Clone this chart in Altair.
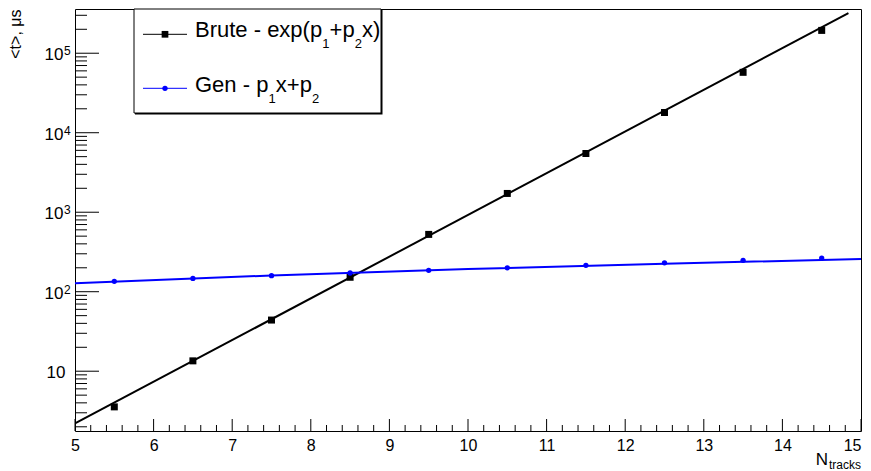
import altair as alt
import pandas as pd

# ---------------- data ----------------
n_tracks = [5.5, 6.5, 7.5, 8.5, 9.5, 10.5, 11.5, 12.5, 13.5, 14.5]
brute_t = [3.56, 13.5, 44, 152, 526, 1722, 5480, 17950, 57500, 193700]
gen_t = [135, 147, 159, 172, 186, 200, 215, 231, 248, 265]

brute_fit_x = [5.0, 14.84]
brute_fit_t = [2.2, 320000]
gen_fit_x = [5.0, 7.5, 10.0, 12.5, 15.0]
gen_fit_t = [128, 160, 193, 225, 258]

x_major = [5, 6, 7, 8, 9, 10, 11, 12, 13, 14, 15]
x_minor = [round(5 + 0.2 * i, 1) for i in range(51) if i % 5 != 0]
y_major = [10, 100, 1000, 10000, 100000]
y_exponent = ["", "2", "3", "4", "5"]
y_minor = [m * 10 ** e for e in range(0, 6) for m in range(2, 10)
           if 1.77 <= m * 10 ** e <= 3.6e5]

legend_labels = ["Brute - exp(p", "1", "+p", "2", "x)",
                 "Gen - p", "1", "x+p", "2"]

# ---------------- layout ----------------
W, H = 786, 422
FONT = "Liberation Sans"
BLUE = "#0000ff"

xs = alt.Scale(domain=[5, 15], nice=False, zero=False)
ys = alt.Scale(type="log", domain=[1.77, 3.6e5], nice=False)
xaxis = alt.Axis(values=x_major, ticks=False, domain=False, grid=False,
                 labelFontSize=16, labelFont=FONT, labelColor="black",
                 labelPadding=6, labelFlush=False, labelOverlap=False,
                 labelAlign=alt.condition("datum.value >= 15",
                                          alt.value("right"), alt.value("center")),
                 format="d", title=None)
X = lambda f: alt.X(f, type="quantitative", scale=xs, axis=xaxis)
Y = lambda f: alt.Y(f, type="quantitative", scale=ys, axis=None)

df_b = pd.DataFrame({"x": n_tracks, "t": brute_t})
df_g = pd.DataFrame({"x": n_tracks, "t": gen_t})
df_bf = pd.DataFrame({"x": brute_fit_x, "t": brute_fit_t})
df_gf = pd.DataFrame({"x": gen_fit_x, "t": gen_fit_t})
one = pd.DataFrame({"a": [0]})

layers = []

# ticks (inside the frame)
layers.append(alt.Chart(pd.DataFrame({"v": x_major})).mark_rule(color="black", strokeWidth=1)
              .encode(x=X("v"), y=alt.value(H), y2=alt.value(H - 12)))
layers.append(alt.Chart(pd.DataFrame({"v": x_minor})).mark_rule(color="black", strokeWidth=1)
              .encode(x=X("v"), y=alt.value(H), y2=alt.value(H - 6)))
layers.append(alt.Chart(pd.DataFrame({"v": y_major})).mark_rule(color="black", strokeWidth=1)
              .encode(y=Y("v"), x=alt.value(0), x2=alt.value(24)))
layers.append(alt.Chart(pd.DataFrame({"v": y_minor})).mark_rule(color="black", strokeWidth=1)
              .encode(y=Y("v"), x=alt.value(0), x2=alt.value(12)))

# y tick labels with exponents
df_ylab = pd.DataFrame({"v": y_major, "e": y_exponent})
layers.append(alt.Chart(df_ylab[df_ylab.e == ""]).mark_text(
    align="right", baseline="alphabetic", dy=7, fontSize=17, font=FONT, color="black")
    .encode(y=Y("v"), x=alt.value(-9.5), text=alt.value("10")))
layers.append(alt.Chart(df_ylab[df_ylab.e != ""]).mark_text(
    align="right", baseline="alphabetic", dy=7, fontSize=17, font=FONT, color="black")
    .encode(y=Y("v"), x=alt.value(-11.5), text=alt.value("10")))
layers.append(alt.Chart(df_ylab[df_ylab.e != ""]).mark_text(
    align="left", baseline="alphabetic", dy=2, fontSize=12, font=FONT, color="black")
    .encode(y=Y("v"), x=alt.value(-11), text="e:N"))

# data
layers.append(alt.Chart(df_b).mark_point(shape="square", filled=True, size=49,
                                         color="black", opacity=1)
              .encode(x=X("x"), y=Y("t")))
layers.append(alt.Chart(df_bf).mark_line(color="black", strokeWidth=2, clip=True)
              .encode(x=X("x"), y=Y("t")))
layers.append(alt.Chart(df_gf).mark_line(color=BLUE, strokeWidth=2, clip=True)
              .encode(x=X("x"), y=Y("t")))
layers.append(alt.Chart(df_g).mark_point(shape="circle", filled=True, size=28,
                                         color=BLUE, opacity=1)
              .encode(x=X("x"), y=Y("t")))

# axis titles
layers.append(alt.Chart(one).mark_text(angle=270, align="right", baseline="alphabetic",
                                       fontSize=16, font=FONT, color="black")
              .encode(x=alt.value(-54), y=alt.value(0.5), text=alt.value("<t>, μs")))
layers.append(alt.Chart(one).mark_text(align="right", baseline="alphabetic",
                                       fontSize=17, font=FONT, color="black")
              .encode(x=alt.value(753), y=alt.value(456), text=alt.value("N")))
layers.append(alt.Chart(one).mark_text(align="right", baseline="alphabetic",
                                       fontSize=12, font=FONT, color="black")
              .encode(x=alt.value(786), y=alt.value(460), text=alt.value("tracks")))

# legend box
layers.append(alt.Chart(one).mark_rect(color="black")
              .encode(x=alt.value(60), x2=alt.value(307.5), y=alt.value(1), y2=alt.value(105.5)))
layers.append(alt.Chart(one).mark_rect(fill="white", stroke="black", strokeWidth=1)
              .encode(x=alt.value(59), x2=alt.value(306), y=alt.value(0), y2=alt.value(104)))
for ly, col, shape, size in [(25.3, "black", "square", 45), (79.3, BLUE, "circle", 28)]:
    layers.append(alt.Chart(one).mark_rule(color=col, strokeWidth=1)
                  .encode(x=alt.value(68), x2=alt.value(112), y=alt.value(ly)))
    layers.append(alt.Chart(one).mark_point(shape=shape, filled=True, size=size,
                                            color=col, opacity=1)
                  .encode(x=alt.value(90), y=alt.value(ly)))

leg_x = [120, 247.3, 254.6, 279.8, 287, 120, 193.5, 200.8, 237]
leg_y = [27.7, 38.7, 27.7, 38.7, 27.7, 82.7, 93.7, 82.7, 93.7]
leg_s = [22, 13, 22, 13, 22, 22, 13, 22, 13]
for lab, lx, lyy, ls in zip(legend_labels, leg_x, leg_y, leg_s):
    layers.append(alt.Chart(one).mark_text(align="left", baseline="alphabetic",
                                           fontSize=ls, font=FONT, color="black")
                  .encode(x=alt.value(lx), y=alt.value(lyy), text=alt.value(lab)))

chart = alt.layer(*layers).properties(
    width=W, height=H,
    autosize=alt.AutoSizeParams(type="none"),
    padding={"left": 67, "top": 1, "right": 1, "bottom": 40},
    background="white",
).configure_view(stroke="black", strokeWidth=1)

chart.save("out.html", embed_options={"renderer": "svg", "actions": False})
